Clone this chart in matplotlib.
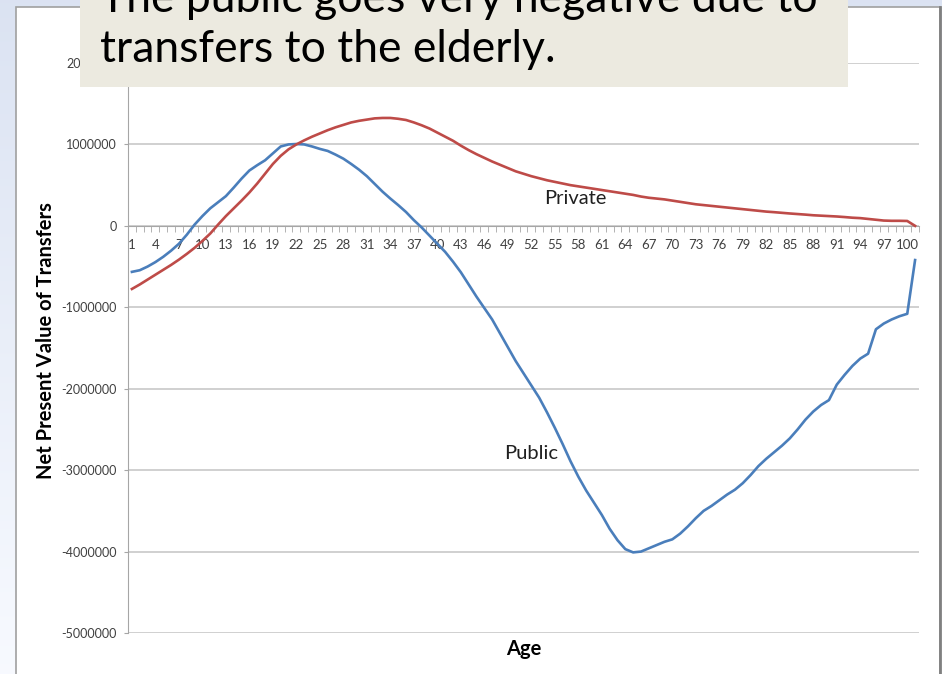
import numpy as np
import matplotlib
matplotlib.use("Agg")
import matplotlib.pyplot as plt
from matplotlib.patches import Rectangle
from matplotlib.ticker import FixedLocator, FuncFormatter

plt.rcParams['font.family'] = ['Lato', 'DejaVu Sans']
plt.rcParams['axes.unicode_minus'] = False

# Net present value of transfers by age (1..101)
ages = list(range(1, 102))

public = [
    -565e3, -545e3, -500e3, -445e3, -380e3, -305e3, -220e3, -110e3, 15e3, 120e3,
    215e3, 290e3, 365e3, 470e3, 580e3, 680e3, 745e3, 805e3, 890e3, 975e3,
    1000e3, 1005e3, 1000e3, 975e3, 945e3, 920e3, 875e3, 825e3, 760e3, 690e3,
    610e3, 515e3, 420e3, 335e3, 255e3, 170e3, 70e3, -20e3, -120e3, -220e3,
    -320e3, -440e3, -570e3, -720e3, -870e3, -1010e3, -1150e3, -1320e3, -1490e3, -1660e3,
    -1810e3, -1960e3, -2110e3, -2290e3, -2480e3, -2680e3, -2890e3, -3080e3, -3250e3, -3400e3,
    -3550e3, -3720e3, -3860e3, -3970e3, -4010e3, -4000e3, -3960e3, -3920e3, -3880e3, -3850e3,
    -3780e3, -3690e3, -3590e3, -3500e3, -3440e3, -3370e3, -3300e3, -3240e3, -3160e3, -3060e3,
    -2950e3, -2860e3, -2780e3, -2700e3, -2610e3, -2500e3, -2380e3, -2280e3, -2200e3, -2140e3,
    -1950e3, -1830e3, -1720e3, -1630e3, -1570e3, -1270e3, -1200e3, -1150e3, -1110e3, -1080e3,
    -420e3,
]

private = [
    -775e3, -720e3, -660e3, -600e3, -540e3, -480e3, -415e3, -345e3, -270e3, -185e3,
    -95e3, 15e3, 120e3, 215e3, 310e3, 410e3, 520e3, 640e3, 760e3, 860e3,
    940e3, 1000e3, 1050e3, 1095e3, 1135e3, 1175e3, 1210e3, 1240e3, 1270e3, 1290e3,
    1305e3, 1320e3, 1325e3, 1325e3, 1315e3, 1300e3, 1270e3, 1235e3, 1195e3, 1145e3,
    1095e3, 1045e3, 985e3, 930e3, 880e3, 835e3, 790e3, 750e3, 710e3, 670e3,
    640e3, 610e3, 585e3, 560e3, 540e3, 520e3, 500e3, 485e3, 470e3, 455e3,
    440e3, 425e3, 410e3, 395e3, 380e3, 360e3, 345e3, 335e3, 325e3, 310e3,
    295e3, 280e3, 265e3, 255e3, 245e3, 235e3, 225e3, 215e3, 205e3, 195e3,
    185e3, 175e3, 168e3, 160e3, 152e3, 145e3, 138e3, 130e3, 125e3, 120e3,
    115e3, 108e3, 100e3, 95e3, 85e3, 75e3, 65e3, 62e3, 62e3, 60e3,
    0e3,
]

y_ticks = [-5e6, -4e6, -3e6, -2e6, -1e6, 0, 1e6, 2e6]
x_labels = list(range(1, 101, 3))

title_lines = ["The public goes very negative due to", "transfers to the elderly."]

W, H = 942, 674
fig = plt.figure(figsize=(W / 100, H / 100), dpi=100)

# slide background and white chart panel
bg = fig.add_axes([0, 0, 1, 1], zorder=-5)
bg.set_xlim(0, W)
bg.set_ylim(H, 0)
bg.axis('off')
grad = np.linspace(0, 1, 256)[:, None]
top_c = np.array([0.86, 0.89, 0.95])
bot_c = np.array([0.97, 0.98, 1.0])
img = top_c[None, None, :] * (1 - grad[:, :, None]) + bot_c[None, None, :] * grad[:, :, None]
bg.imshow(img, extent=[0, W, H, 0], aspect='auto')
bg.add_patch(Rectangle((16, 7), 924, H, facecolor='white', edgecolor='#A0A0A0', lw=1.2))
bg.plot([940, 940], [7, H], color='#808080', lw=2)

# main chart
ax = fig.add_axes([128 / W, 1 - 633 / H, (919 - 128) / W, (633 - 63) / H])
ax.set_facecolor('none')
ax.plot(ages, public, color='#4A7EBB', lw=1.9, solid_joinstyle='round', zorder=3)
ax.plot(ages, private, color='#BE4B48', lw=1.9, solid_joinstyle='round', zorder=3)

ax.set_xlim(0.5, 101.5)
ax.set_ylim(-5e6, 2e6)

for s in ['top', 'right']:
    ax.spines[s].set_visible(False)
ax.spines['left'].set_color('#A6A6A6')
ax.spines['bottom'].set_position(('data', 0))
ax.spines['bottom'].set_color('#A6A6A6')

ax.yaxis.set_major_locator(FixedLocator(y_ticks))
ax.yaxis.set_major_formatter(FuncFormatter(lambda v, p: f"{int(round(v))}"))
ax.tick_params(axis='y', length=3, color='#A6A6A6', labelsize=9, labelcolor='#404040', pad=5)
ax.grid(axis='y', color='#C8C8C8', lw=1.2)
ax.set_axisbelow(True)

ax.xaxis.set_major_locator(FixedLocator(x_labels))
ax.xaxis.set_minor_locator(FixedLocator(np.arange(0.5, 102, 1.0)))
ax.tick_params(axis='x', which='major', length=0, labelsize=9.5, labelcolor='#404040', pad=9.5)
ax.tick_params(axis='x', which='minor', length=4, color='#A6A6A6')

ax.text(57.6, 0.33e6, "Private", fontsize=14.5, color='#202020', ha='center', va='center', zorder=4)
ax.text(52.0, -2.79e6, "Public", fontsize=14.5, color='#202020', ha='center', va='center', zorder=4)

fig.text(524 / W, 1 - 649 / H, "Age", fontsize=14.5, fontweight='bold', ha='center', va='center')
fig.text(46 / W, 1 - 341 / H, "Net Present Value of Transfers", fontsize=14.5, fontweight='bold',
         rotation=90, ha='center', va='center')

# overlaid caption box
fig.patches.append(Rectangle((80 / W, 1 - 87 / H), (848 - 80) / W, 87 / H, transform=fig.transFigure,
                             facecolor='#ECEAE0', edgecolor='none', zorder=5))
fig.text(100 / W, 1 - 12 / H, title_lines[0], fontsize=32, ha='left', va='baseline', zorder=6)
fig.text(100 / W, 1 - 62 / H, title_lines[1], fontsize=32, ha='left', va='baseline', zorder=6)

fig.savefig("out.png", dpi=100)
